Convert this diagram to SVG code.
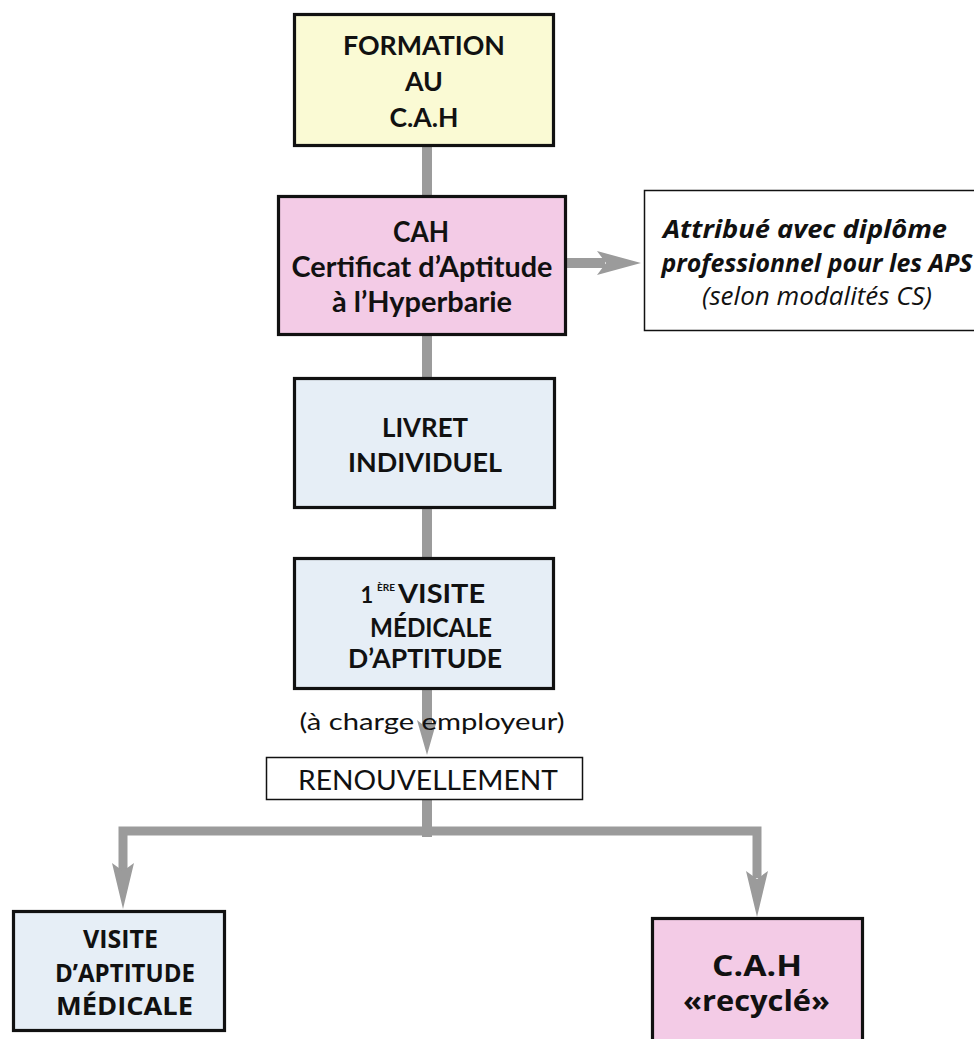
<svg xmlns="http://www.w3.org/2000/svg" width="974" height="1039" viewBox="0 0 974 1039">
<style>
.box{stroke:#111;stroke-width:3.2}
.yellow{fill:#fafad4}
.pink{fill:#f3cbe6}
.blue{fill:#e6eef6}
.thin{fill:#fff;stroke:#111;stroke-width:1.5}
.t{font-family:Lato,"Open Sans","Liberation Sans",sans-serif;font-weight:bold;font-size:27px;fill:#111;text-anchor:middle}
.c{font-family:"Open Sans",Roboto,"Liberation Sans",sans-serif;font-weight:bold;fill:#111;text-anchor:middle}
.n{font-family:"Open Sans",Lato,"Liberation Sans",sans-serif;font-style:italic;font-size:25px;fill:#111;text-anchor:middle}
.r{font-family:Lato,"Open Sans","Liberation Sans",sans-serif;font-size:24px;fill:#111;text-anchor:middle}
.ln{stroke:#9b9b9b;stroke-width:10;fill:none}
.hd{fill:#9b9b9b}
</style>

<g id="connectors">
  <line class="ln" x1="427" y1="147" x2="427" y2="195"/>
  <line class="ln" x1="567" y1="263" x2="605" y2="263"/>
  <path class="hd" d="M597,251 L606,263 L597,275 L641,263 Z"/>
  <line class="ln" x1="427" y1="336" x2="427" y2="377"/>
  <line class="ln" x1="427" y1="509" x2="427" y2="557"/>
  <line class="ln" x1="427" y1="690" x2="427" y2="728"/>
  <path class="hd" d="M417,720 L427,728 L437,720 L427,755 Z"/>
  <line class="ln" x1="427" y1="800" x2="427" y2="837"/>
  <path class="ln" style="stroke-width:9" d="M123,872 L123,831 L757,831 L757,878"/>
  <path class="hd" d="M112,863 L123,871 L134,863 L123,909 Z"/>
  <path class="hd" d="M746,871 L757,879 L768,871 L757,917 Z"/>
</g>

<g id="formation">
  <rect class="box yellow" x="294.5" y="14.5" width="259" height="131"/>
  <text class="t" x="424" y="55" textLength="162" lengthAdjust="spacingAndGlyphs">FORMATION</text>
  <text class="t" x="424" y="91" textLength="38" lengthAdjust="spacingAndGlyphs">AU</text>
  <text class="t" x="424" y="127" textLength="69" lengthAdjust="spacingAndGlyphs">C.A.H</text>
</g>

<g id="cah">
  <rect class="box pink" x="278.5" y="196.5" width="287" height="138"/>
  <text class="t" x="421" y="242" style="font-size:28px" textLength="56" lengthAdjust="spacingAndGlyphs">CAH</text>
  <text class="t" x="422" y="277" style="font-size:28px" textLength="261" lengthAdjust="spacingAndGlyphs">Certificat d’Aptitude</text>
  <text class="t" x="422" y="312" style="font-size:28px" textLength="180" lengthAdjust="spacingAndGlyphs">à l’Hyperbarie</text>
</g>

<g id="note">
  <rect class="thin" x="644.5" y="190.5" width="345" height="140"/>
  <text class="n" x="805" y="238" style="font-weight:bold" textLength="284" lengthAdjust="spacingAndGlyphs">Attribué avec diplôme</text>
  <text class="n" x="817" y="272" style="font-weight:bold" textLength="311" lengthAdjust="spacingAndGlyphs">professionnel pour les APS</text>
  <text class="n" x="817" y="305" textLength="230" lengthAdjust="spacingAndGlyphs">(selon modalités CS)</text>
</g>

<g id="livret">
  <rect class="box blue" x="294.5" y="378.5" width="260" height="129"/>
  <text class="t" x="425" y="437" textLength="86" lengthAdjust="spacingAndGlyphs">LIVRET</text>
  <text class="t" x="425" y="472" textLength="154" lengthAdjust="spacingAndGlyphs">INDIVIDUEL</text>
</g>

<g id="visite1">
  <rect class="box blue" x="294.5" y="558.5" width="259" height="130"/>
  <text class="t" x="367" y="603" style="font-size:22px">1</text>
  <text class="t" x="386" y="591" style="font-size:10px" textLength="18" lengthAdjust="spacingAndGlyphs">ÈRE</text>
  <text class="t" x="441.5" y="603" textLength="87" lengthAdjust="spacingAndGlyphs">VISITE</text>
  <text class="t" x="431" y="637" textLength="122" lengthAdjust="spacingAndGlyphs">MÉDICALE</text>
  <text class="t" x="425" y="668" textLength="154" lengthAdjust="spacingAndGlyphs">D’APTITUDE</text>
</g>

<g id="charge">
  <text class="r" x="432" y="730" style="font-size:23px" textLength="265" lengthAdjust="spacingAndGlyphs">(à charge employeur)</text>
</g>

<g id="renouvellement">
  <rect class="thin" x="266.5" y="757.5" width="316" height="42"/>
  <text class="r" x="428" y="790" style="font-size:27px" textLength="260" lengthAdjust="spacingAndGlyphs">RENOUVELLEMENT</text>
</g>

<g id="visite2">
  <rect class="box blue" x="13.5" y="911.5" width="211" height="119"/>
  <text class="c" x="120.5" y="948" style="font-size:25px" textLength="75" lengthAdjust="spacingAndGlyphs">VISITE</text>
  <text class="c" x="125" y="982" style="font-size:25px" textLength="140" lengthAdjust="spacingAndGlyphs">D’APTITUDE</text>
  <text class="c" x="124.5" y="1015" style="font-size:25px" textLength="137" lengthAdjust="spacingAndGlyphs">MÉDICALE</text>
</g>

<g id="recycle">
  <rect class="box pink" x="652.5" y="918.5" width="210" height="140"/>
  <text class="c" x="757" y="976" style="font-size:28px" textLength="90" lengthAdjust="spacingAndGlyphs">C.A.H</text>
  <text class="c" x="756.5" y="1011" style="font-size:28px" textLength="147" lengthAdjust="spacingAndGlyphs">«recyclé»</text>
</g>
</svg>
